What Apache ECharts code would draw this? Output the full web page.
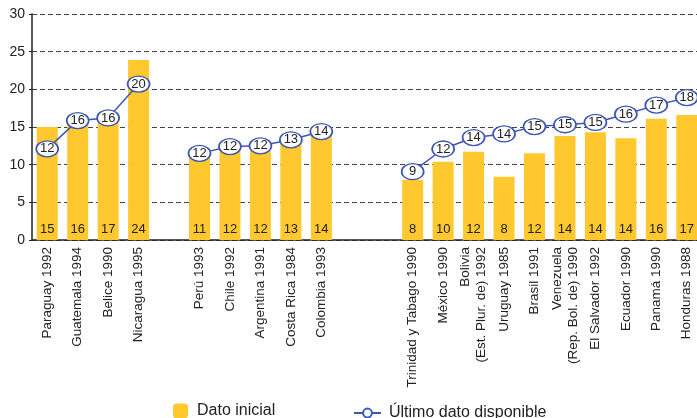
<!DOCTYPE html>
<html>
<head>
<meta charset="utf-8">
<script src="https://cdn.jsdelivr.net/npm/echarts@6/dist/echarts.min.js"></script>
<style>
html,body{margin:0;padding:0;background:#fff;}
#c{width:697px;height:418px;}
</style>
</head>
<body>
<div id="c"></div>
<script>
var categories = ['Paraguay 1992','Guatemala 1994','Belice 1990','Nicaragua 1995','',
  'Perú 1993','Chile 1992','Argentina 1991','Costa Rica 1984','Colombia 1993','','',
  'Trinidad y Tabago 1990','México 1990','Bolivia\n(Est. Plur. de) 1992','Uruguay 1985','Brasil 1991',
  'Venezuela\n(Rep. Bol. de) 1990','El Salvador 1992','Ecuador 1990','Panamá 1990','Honduras 1988'];
var datoInicial = [15.0,15.8,16.8,23.9,'-',11.4,11.95,11.85,12.95,14.1,'-','-',
  8.0,10.4,11.7,8.4,11.5,13.8,14.3,13.5,16.1,16.6];
var ultimoDato = [12.1,15.85,16.2,20.7,'-',11.5,12.4,12.5,13.3,14.4,'-','-',
  9.07,12.08,13.6,14.08,15.05,15.3,15.6,16.7,17.9,18.9];
var ultimoLabels = [12,16,16,20,'',12,12,12,13,14,'','',
  9,12,14,14,15,15,15,16,17,18];
var yTicks = {min:0, max:30, interval:5};

var FONT = 'Liberation Sans, Arial, sans-serif';
var chart = echarts.init(document.getElementById('c'));
chart.setOption({
  animation:false,
  backgroundColor:'#fff',
  textStyle:{fontFamily:FONT},
  grid:{left:32, top:14, width:670, height:226, containLabel:false, outerBoundsMode:'none'},
  legend:[{
    left:173, top:403, padding:0, itemWidth:15, itemHeight:15, data:['Dato inicial'],
    textStyle:{fontSize:16, color:'#222', fontFamily:FONT, padding:[0,0,0,4]}
  },{
    left:353, top:405, padding:0, itemWidth:27, itemHeight:11, data:['Último dato disponible'],
    textStyle:{fontSize:16, color:'#222', fontFamily:FONT, padding:[0,0,0,3]}
  }],
  xAxis:{
    type:'category', data:categories,
    axisLine:{lineStyle:{color:'#222', width:1.5}},
    axisTick:{show:false},
    axisLabel:{interval:0, rotate:90, fontSize:13.5, color:'#222', margin:7, lineHeight:16, fontFamily:FONT}
  },
  yAxis:{
    type:'value', min:yTicks.min, max:yTicks.max, interval:yTicks.interval,
    axisLine:{show:true, lineStyle:{color:'#222', width:1.5}},
    axisTick:{show:true, length:3, lineStyle:{color:'#222'}},
    axisLabel:{fontSize:14, color:'#222', margin:7, fontFamily:FONT},
    splitLine:{show:true, lineStyle:{color:'#444', type:[5,3], width:1}}
  },
  series:[{
    name:'Dato inicial', type:'bar', data:datoInicial, barWidth:21,
    itemStyle:{color:'#FFC82E'},
    label:{show:true, position:'insideBottom', distance:4, color:'#222', fontSize:13, fontFamily:FONT,
      formatter:function(p){return Math.round(p.value);}}
  },{
    name:'Último dato disponible', type:'line', data:ultimoDato, connectNulls:false,
    symbol:'circle', symbolSize:[22,16], z:5,
    lineStyle:{color:'#3E56B4', width:1.5},
    itemStyle:{color:'#fff', borderColor:'#3E56B4', borderWidth:1.5},
    label:{show:true, position:'inside', color:'#222', fontSize:13, fontFamily:FONT,
      formatter:function(p){return ultimoLabels[p.dataIndex];}}
  }]
});
</script>
</body>
</html>
